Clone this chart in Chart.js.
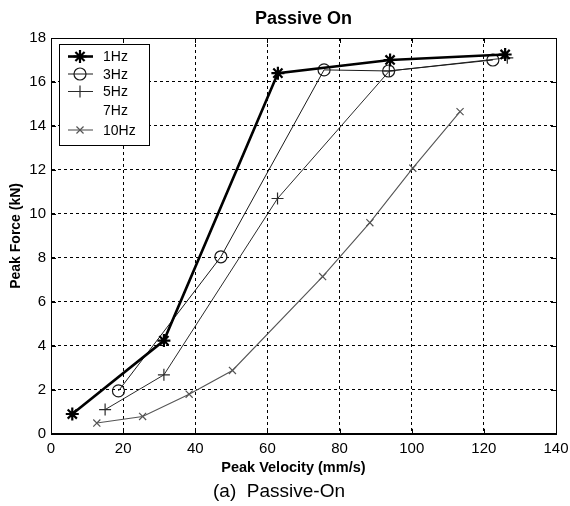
<!DOCTYPE html>
<html>
<head>
<meta charset="utf-8">
<script src="https://cdn.jsdelivr.net/npm/chart.js@4/dist/chart.umd.min.js"></script>
<style>
  html,body{margin:0;padding:0;background:#fff;}
  #wrap{width:570px;height:506px;position:relative;}
</style>
</head>
<body>
<div id="wrap"><canvas id="c" width="570" height="506"></canvas></div>
<script>
// Peak force vs peak velocity, passive-on damper, per excitation frequency
const hz1X  = [5.9, 31.3, 62.9, 94.0, 125.9];
const hz1Y  = [0.9, 4.24, 16.4, 17.0, 17.25];
const hz3X  = [18.7, 47.1, 75.7, 93.6, 122.5];
const hz3Y  = [1.95, 8.05, 16.55, 16.5, 17.0];
const hz5X  = [15.0, 31.3, 62.8, 93.8, 126.5];
const hz5Y  = [1.1, 2.68, 10.7, 16.5, 17.1];
const hz7X  = [];
const hz7Y  = [];
const hz10X = [12.7, 25.4, 38.3, 50.3, 75.3, 88.4, 100.3, 113.4];
const hz10Y = [0.49, 0.79, 1.8, 2.88, 7.15, 9.6, 12.08, 14.65];

const xTicks = [0, 20, 40, 60, 80, 100, 120, 140];
const yTicks = [0, 2, 4, 6, 8, 10, 12, 14, 16, 18];

const FONT = "'Liberation Sans', Arial, Helvetica, sans-serif";
const NARROW = "'Liberation Sans Narrow', 'Arial Narrow', 'Liberation Sans', sans-serif";
const pts = (xs, ys) => xs.map((x, i) => ({x, y: ys[i]}));

function series(label, xs, ys, color, width, style, radius, pbw){
  return {
    label, data: pts(xs, ys), borderColor: color, borderWidth: width,
    pointStyle: style, pointRadius: radius, pointBorderColor: color,
    pointBackgroundColor: 'rgba(0,0,0,0)', pointBorderWidth: pbw,
    tension: 0, fill: false
  };
}

const datasets = [
  series('1Hz',  hz1X,  hz1Y,  '#000', 2.6, 'star',     6.5, 2.2),
  series('3Hz',  hz3X,  hz3Y,  '#1a1a1a', 1, 'circle',   6,   1.2),
  series('5Hz',  hz5X,  hz5Y,  '#2a2a2a', 1, 'cross',    6,   1.2),
  series('7Hz',  hz7X,  hz7Y,  'rgba(0,0,0,0)', 0, false, 0, 0),
  series('10Hz', hz10X, hz10Y, '#555', 1.1, 'crossRot', 5,   1.2)
];

// framed box + boxed legend drawn on top, matlab style
const frameLegend = {
  id: 'frameLegend',
  afterDraw(chart){
    const {ctx, chartArea: a} = chart;
    ctx.save();
    ctx.strokeStyle = '#000';
    ctx.lineWidth = 1;
    ctx.setLineDash([]);
    ctx.strokeRect(Math.round(a.left) + 0.5, Math.round(a.top) + 0.5,
      Math.round(a.right - a.left), Math.round(a.bottom - a.top));

    // small inward ticks on all four sides
    const xs = chart.scales.x, ys = chart.scales.y;
    ctx.beginPath();
    xTicks.forEach(v => {
      const px = Math.round(xs.getPixelForValue(v)) + 0.5;
      ctx.moveTo(px, a.bottom); ctx.lineTo(px, a.bottom - 5);
      ctx.moveTo(px, a.top); ctx.lineTo(px, a.top + 5);
    });
    yTicks.forEach(v => {
      const py = Math.round(ys.getPixelForValue(v)) + 0.5;
      ctx.moveTo(a.left, py); ctx.lineTo(a.left + 5, py);
      ctx.moveTo(a.right, py); ctx.lineTo(a.right - 5, py);
    });
    ctx.stroke();

    const bx = 59.5, by = 44.5, bw = 90, bh = 101;
    ctx.fillStyle = '#fff';
    ctx.fillRect(bx, by, bw, bh);
    ctx.strokeRect(bx, by, bw, bh);
    const rows = [56.5, 74, 91.5, 110, 130];
    ctx.font = '14px ' + FONT;
    ctx.textBaseline = 'middle';
    ctx.textAlign = 'left';
    chart.data.datasets.forEach((ds, i) => {
      const y = rows[i];
      if (ds.borderWidth > 0) {
        ctx.strokeStyle = ds.borderColor;
        ctx.lineWidth = ds.borderWidth;
        ctx.beginPath(); ctx.moveTo(68, y); ctx.lineTo(93, y); ctx.stroke();
      }
      if (ds.pointStyle) {
        const opts = {pointStyle: ds.pointStyle, radius: ds.pointRadius,
          borderWidth: ds.pointBorderWidth, rotation: 0};
        ctx.strokeStyle = ds.pointBorderColor;
        ctx.fillStyle = 'rgba(0,0,0,0)';
        ctx.lineWidth = ds.pointBorderWidth;
        Chart.helpers.drawPoint(ctx, opts, 80, y);
      }
      ctx.fillStyle = '#000';
      ctx.fillText(ds.label, 103, y + 1);
    });
    ctx.restore();
  }
};

new Chart(document.getElementById('c'), {
  type: 'line',
  data: {datasets},
  options: {
    responsive: false,
    animation: false,
    layout: {padding: {top: 0, left: 2, right: 14, bottom: 1}},
    plugins: {
      legend: {display: false},
      tooltip: {enabled: false},
      title: {display: true, fullSize: false, text: 'Passive On', color: '#000',
        font: {family: FONT, size: 18, weight: 'bold'}, padding: {top: 8, bottom: 8.4}},
      subtitle: {display: true, position: 'bottom', text: '(a)\u00a0\u00a0Passive-On', color: '#000',
        font: {family: FONT, size: 19, weight: 'normal'}, padding: {top: 1, bottom: 2}}
    },
    scales: {
      x: {
        type: 'linear', min: 0, max: 140,
        afterBuildTicks: s => { s.ticks = xTicks.map(v => ({value: v})); },
        afterFit: s => { s.height = 45.4; s.paddingLeft = 0; s.paddingRight = 0; },
        ticks: {color: '#000', padding: 6, font: {family: NARROW, size: 15}, maxRotation: 0},
        grid: {color: '#000', lineWidth: 1, drawTicks: false},
        border: {display: true, color: '#000', width: 1, dash: [3, 3]},
        title: {display: true, text: 'Peak Velocity (mm/s)\u00a0\u00a0\u00a0\u00a0\u00a0', color: '#000',
          font: {family: FONT, size: 14.5, weight: 'bold'}, padding: {top: 2, bottom: 3}}
      },
      y: {
        type: 'linear', min: 0, max: 18,
        afterBuildTicks: s => { s.ticks = yTicks.map(v => ({value: v})); },
        afterFit: s => { s.width = 49; },
        ticks: {color: '#000', padding: 5, font: {family: NARROW, size: 15}},
        grid: {color: '#000', lineWidth: 1, drawTicks: false},
        border: {display: true, color: '#000', width: 1, dash: [3, 3]},
        title: {display: true, text: 'Peak Force (kN)', color: '#000',
          font: {family: FONT, size: 14, weight: 'bold'}, padding: {top: 5.3, bottom: 0}}
      }
    }
  },
  plugins: [frameLegend]
});
</script>
</body>
</html>
